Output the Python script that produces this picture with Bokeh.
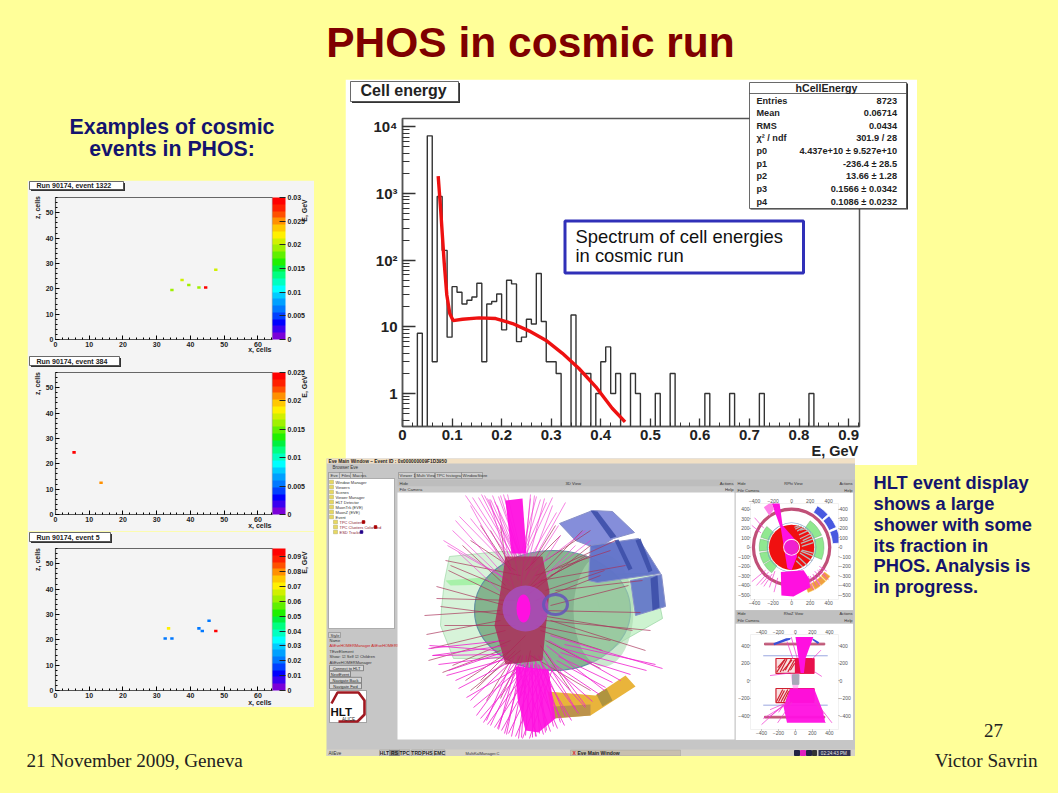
from bokeh.plotting import figure
from bokeh.embed import file_html
from bokeh.resources import INLINE
from bokeh.core.properties import value
from bokeh.models import (Column, ColorBar, LinearAxis, LinearColorMapper, FixedTicker, Range1d, ColumnDataSource)

FONT = "Liberation Sans"
SERIF = "Liberation Serif"
YELLOW = "#FFFF99"
NAVY = "#14146E"

# ---------- DATA ----------
TITLE = "PHOS in cosmic run"
HEADING = ["Examples of cosmic", "events in PHOS:"]
SIDE_TEXT = ["HLT event display", "shows a large", "shower with some", "its fraction in", "PHOS. Analysis is", "in progress."]
CALLOUT = ["Spectrum of cell energies", "in cosmic run"]
FOOT_LEFT = "21 November  2009, Geneva"
FOOT_RIGHT = "Victor Savrin"
PAGE_NO = "27"

BIN_LOW = [i / 100 for i in range(92)]
BIN_COUNT = [0, 0, 0, 8, 0, 7300, 3, 900, 140, 7,
             40, 33, 22, 25, 28, 45, 3, 22, 24, 31,
             9, 50, 44, 6, 7, 13, 11, 63, 12, 3,
             3, 2, 0, 0, 15, 0, 2, 2, 0, 1,
             3, 5, 1, 2, 0, 0, 2, 1, 0, 0,
             0, 1, 0, 0, 2, 0, 0, 0, 0, 0,
             0, 1, 0, 0, 0, 0, 1, 0, 0, 0,
             0, 0, 1, 0, 0, 0, 0, 0, 0, 0,
             0, 0, 1, 0, 0, 0, 0, 0, 0, 0, 0, 0]
FIT_E = [.072, .0773, .084, .0894, .0954, .102, .121, .1546, .188, .222, .255, .289, .3226, .356, .39, .423, .449]
FIT_N = [1820, 531, 94, 30, 15.8, 12.4, 13, 13.6, 13.3, 11.2, 8.7, 6.3, 4.0, 2.37, 1.26, 0.6, 0.376]
STAT_NAMES = ["Entries", "Mean", "RMS", "\u03c7\u00b2 / ndf", "p0", "p1", "p2", "p3", "p4"]
STAT_VALUES = ["8723", "0.06714", "0.0434", "301.9 / 28", "4.437e+10 \u00b1 9.527e+10", "-236.4 \u00b1 28.5",
               "13.66 \u00b1 1.28", "0.1566 \u00b1 0.0342", "0.1086 \u00b1 0.0232"]

PALETTE = ["#7A00D8", "#3A00F0", "#0000FF", "#0040FF", "#0078FF", "#00A0FF", "#00CCFF", "#00FFFF",
           "#00FFC0", "#00FF80", "#00F040", "#20F000", "#60F000", "#A0F000", "#D0F000", "#FFF000",
           "#FFC800", "#FF9000", "#FF5000", "#FF2000", "#FF0000"]

EV1_NAME, EV1_X, EV1_Z, EV1_E = "Run 90174, event 1322", [34, 37, 39, 42, 44, 47], [19, 23, 21, 20, 20, 27], [.0195, .0205, .0195, .019, .0295, .0205]
EV2_NAME, EV2_X, EV2_Z, EV2_E = "Run 90174, event 384", [5, 13], [24, 12], [.0245, .021]
EV3_NAME, EV3_X, EV3_Z, EV3_E = "Run 90174, event 5", [32, 34, 33, 42, 43, 45, 47], [20, 20, 24, 24, 23, 27, 23], [.021, .021, .07, .021, .021, .021, .095]
EV1_TICKS = [0, .005, .01, .015, .02, .025, .03]
EV2_TICKS = [0, .005, .01, .015, .02, .025]
EV3_TICKS = [0, .01, .02, .03, .04, .05, .06, .07, .08, .09]

# 3D view: hand-read track end points, page pixels
TOP_X0 = [512, 514, 516, 518, 519, 520, 521, 522, 523, 524, 516, 512, 518, 522, 510, 526, 514, 520, 508, 528, 504, 530, 512, 524,
          510, 512, 514, 516, 518, 520, 522, 524, 526, 528, 506, 504, 530, 532, 508, 526]
TOP_Y0 = [555, 552, 556, 550, 553, 556, 552, 555, 553, 557, 575, 570, 580, 570, 585, 575, 590, 590, 580, 585, 595, 590, 575, 580,
          560, 560, 560, 560, 560, 560, 560, 560, 560, 560, 570, 575, 565, 570, 580, 590]
TOP_X1 = [478, 484, 490, 494, 498, 503, 536, 540, 546, 552, 470, 459, 505, 556, 452, 558, 489, 530, 447, 560, 458, 575, 497, 552,
          465, 472, 481, 487, 492, 500, 507, 530, 534, 544, 470, 455, 565, 585, 443, 590]
TOP_Y1 = [497, 495, 499, 501, 496, 494, 496, 499, 502, 497, 518, 516, 498, 512, 530, 525, 499, 498, 545, 535, 552, 545, 505, 505,
          495, 497, 494, 498, 495, 495, 494, 494, 495, 498, 505, 520, 502, 530, 540, 540]
BOT_X0 = [512, 515, 518, 520, 522, 524, 526, 528, 530, 532, 534, 536, 538, 540, 510, 514, 518, 522, 526, 530, 534, 538, 542, 508, 506, 504, 544, 546, 548, 550,
          516, 520, 524, 528, 532, 536, 540, 544, 548, 552, 518, 522, 526, 530, 534, 538, 542, 546, 550, 554, 512, 508, 504, 500, 496, 556, 558, 560, 562, 564]
BOT_Y0 = [660, 662, 664, 662, 664, 662, 664, 662, 664, 662, 664, 662, 664, 660, 655, 655, 655, 655, 655, 655, 655, 655, 655, 650, 645, 640, 650, 645, 640, 635,
          668, 668, 668, 668, 668, 668, 668, 668, 668, 668, 664, 664, 664, 664, 664, 664, 664, 664, 664, 664, 660, 658, 656, 654, 650, 660, 656, 652, 648, 644]
BOT_X1 = [470, 476, 483, 490, 497, 504, 511, 518, 525, 532, 539, 546, 553, 560, 455, 486, 498, 506, 521, 535, 545, 565, 575, 448, 432, 428, 585, 604, 620, 662,
          466, 473, 480, 487, 494, 501, 508, 515, 522, 529, 536, 543, 550, 557, 564, 571, 578, 585, 592, 599, 458, 446, 438, 432, 429, 605, 612, 630, 646, 655]
BOT_Y1 = [700, 715, 722, 725, 728, 733, 736, 738, 735, 737, 733, 730, 726, 722, 680, 720, 729, 734, 737, 736, 732, 716, 708, 670, 655, 648, 705, 690, 680, 668,
          697, 707, 718, 724, 727, 730, 733, 736, 738, 738, 736, 734, 731, 728, 725, 720, 713, 707, 701, 694, 688, 675, 664, 655, 645, 687, 682, 674, 670, 664]
RED_X0 = [515, 510, 505, 500, 500, 505, 510, 515, 520, 525, 530, 535, 540, 545, 550, 540, 545, 520, 530, 510, 500, 505, 510, 515, 525, 535, 540, 545, 550, 555, 510, 500,
          520, 515, 510, 505, 525, 530, 535, 540, 545, 550, 530, 520, 510, 500, 540, 550]
RED_Y0 = [600, 590, 585, 610, 620, 630, 640, 650, 600, 590, 585, 600, 610, 620, 605, 630, 640, 650, 655, 570, 595, 605, 615, 625, 635, 625, 615, 590, 575, 590, 660, 650,
          575, 570, 565, 560, 570, 565, 575, 580, 560, 570, 650, 655, 650, 640, 645, 620]
RED_X1 = [436, 450, 462, 424, 426, 430, 452, 476, 590, 586, 582, 600, 640, 650, 628, 602, 600, 470, 590, 480, 448, 436, 440, 444, 480, 610, 632, 604, 590, 642, 486, 442,
          445, 470, 490, 500, 560, 555, 610, 625, 590, 615, 520, 500, 465, 428, 570, 645]
RED_Y1 = [598, 565, 545, 615, 634, 648, 665, 688, 545, 555, 530, 575, 612, 630, 585, 650, 668, 690, 690, 525, 570, 586, 606, 625, 680, 640, 630, 570, 555, 580, 700, 672,
          560, 540, 530, 525, 535, 525, 550, 565, 530, 540, 695, 698, 680, 660, 690, 650]

RPHI_TICKS_X = [-400, -200, 0, 200, 400]
RPHI_TICKS_Y = [-500, -400, -300, -200, -100, 0, 100, 200, 300, 400]
RHOZ_TICKS = [-400, -200, 0, 200, 400]
TREE_ITEMS = ["Window Manager", "Viewers", "Scenes", "Viewer Manager", "HLT Detector", "MuonTrk (EVE)", "MuonZ (EVE)", "Event", "TPC Clusters", "TPC Clusters Colorized", "ESD Tracks"]
BUTTONS = ["Connect to HLT", "NextEvent", "Navigate Back", "Navigate Fwd"]
TASK_ITEMS = ["HLT", "RS", "TPC", "TRD", "PHS", "EMC"]


# ---------- HELPERS ----------
def place(fig, left, top):
    return Column(children=[fig], styles={"position": "absolute", "left": f"{left}px", "top": f"{top}px"})


def px_fig(left, top, w, h, fill=None):
    f = figure(width=w, height=h, x_range=Range1d(left, left + w), y_range=Range1d(top + h, top),
               output_backend="svg", toolbar_location=None, min_border=0, x_axis_location=None, y_axis_location=None)
    f.grid.visible = False
    f.outline_line_color = None
    if fill is None:
        f.background_fill_alpha = 0
        f.border_fill_alpha = 0
    else:
        f.background_fill_color = fill
        f.border_fill_color = fill
    return f


def txt(f, x, y, s, size, color="black", bold=False, align="left", font=FONT, angle=0):
    f.text([x], [y], text=[s], text_font=value(font), text_font_size=f"{size}px", text_color=color,
           text_font_style="bold" if bold else "normal", text_align=align, text_baseline="middle", angle=angle)


def box(f, x0, y0, x1, y1, fill, line=None, lw=1, alpha=1.0):
    f.quad(left=[x0], right=[x1], top=[y0], bottom=[y1], fill_color=fill, fill_alpha=alpha, line_color=line, line_width=lw)


# ---------- SLIDE ----------
slide = px_fig(8, 8, 1042, 777, YELLOW)
txt(slide, 530, 42, TITLE, 42.5, "#7F0000", True, "center")
txt(slide, 171.5, 126, HEADING[0], 21.3, NAVY, True, "center")
txt(slide, 171.5, 148, HEADING[1], 21.3, NAVY, True, "center")
for t, yy in zip(SIDE_TEXT, [482, 503, 524, 545, 565, 586]):
    txt(slide, 873, yy, t, 18.3, NAVY, True)
txt(slide, 26, 760, FOOT_LEFT, 19.2, "#222222", font=SERIF)
txt(slide, 1037, 760, FOOT_RIGHT, 19.2, "#222222", align="right", font=SERIF)
txt(slide, 993, 730, PAGE_NO, 19, "#222222", align="center", font=SERIF)


# ---------- HISTOGRAM ----------
hist = figure(width=572, height=386, y_axis_type="log", x_range=Range1d(0, 0.922), y_range=Range1d(0.32, 13300),
              output_backend="svg", toolbar_location=None, min_border_left=57, min_border_right=58,
              min_border_top=39, min_border_bottom=39)
hist.grid.visible = False
hist.outline_line_color = "#555555"
hist.outline_line_width = 1.5
hist.step(BIN_LOW + [0.92], [c if c > 0 else 0.1 for c in BIN_COUNT] + [0.1], mode="after", line_color="#333333", line_width=1.4)
hist.line(FIT_E, FIT_N, line_color="#EE1111", line_width=3.4)
hist.xaxis.ticker = FixedTicker(ticks=[i / 10 for i in range(10)], minor_ticks=[i / 50 for i in range(47)])
dec = [0.1, 1, 10, 100, 1000]
hist.yaxis.ticker = FixedTicker(ticks=[1, 10, 100, 1000, 10000], minor_ticks=[d * k for d in dec for k in range(2, 10)] + [10000])
hist.xaxis.major_label_overrides = {0: "0", 0.1: "0.1", 0.2: "0.2", 0.3: "0.3", 0.4: "0.4", 0.5: "0.5", 0.6: "0.6", 0.7: "0.7", 0.8: "0.8", 0.9: "0.9"}
hist.yaxis.major_label_overrides = {1: "1", 10: "10", 100: "10\u00b2", 1000: "10\u00b3", 10000: "10\u2074"}
for ax, tick, mt in ((hist.xaxis, 8, 4), (hist.yaxis, 13, 7)):
    ax.major_tick_in = tick
    ax.major_tick_out = 0
    ax.minor_tick_in = mt
    ax.minor_tick_out = 0
    ax.axis_line_color = "#555555"
    ax.axis_line_width = 1.5
    ax.major_tick_line_color = "#333333"
    ax.major_tick_line_width = 1.3
    ax.minor_tick_line_color = "#333333"
    ax.major_label_text_font = FONT
    ax.major_label_text_font_style = "bold"
    ax.major_label_text_font_size = "15px"
    ax.major_label_text_color = "#222222"
hist.xaxis.major_label_standoff = 3
hist.yaxis.major_label_standoff = 5


# ---------- COSMIC EVENT PANELS ----------
def event_panel(xs, zs, es, ticks, high):
    p = figure(width=287, height=176, x_range=Range1d(0, 64.3), y_range=Range1d(0, 56),
               output_backend="svg", toolbar_location=None, min_border_left=28, min_border_right=42,
               min_border_top=17, min_border_bottom=17, background_fill_color="#F4F4F4", border_fill_color="#F4F4F4")
    p.grid.visible = False
    p.outline_line_color = "#666666"
    p.outline_line_width = 1.2
    mapper = LinearColorMapper(palette=PALETTE, low=0, high=high)
    src = ColumnDataSource(dict(x=[v + .5 for v in xs], y=[v + .5 for v in zs], e=es))
    p.rect("x", "y", width=1, height=1, source=src, fill_color={"field": "e", "transform": mapper}, line_color=None)
    p.xaxis.ticker = FixedTicker(ticks=[0, 10, 20, 30, 40, 50, 60], minor_ticks=list(range(0, 65, 2)))
    p.yaxis.ticker = FixedTicker(ticks=[0, 10, 20, 30, 40, 50], minor_ticks=list(range(0, 57, 2)))
    for ax in (p.xaxis, p.yaxis):
        ax.major_tick_in = 4
        ax.major_tick_out = 0
        ax.minor_tick_in = 2
        ax.minor_tick_out = 0
        ax.axis_line_color = "#555555"
        ax.major_label_text_font = FONT
        ax.major_label_text_font_style = "bold"
        ax.major_label_text_font_size = "7px"
        ax.major_label_text_color = "#222222"
        ax.major_label_standoff = 2
    cb = ColorBar(color_mapper=mapper, width=13, height=142, padding=0, margin=0, ticker=FixedTicker(ticks=ticks),
                  major_tick_line_color="#222222", major_tick_in=6, major_label_text_font=FONT, bar_line_color=None,
                  major_label_text_font_style="bold", major_label_text_font_size="7px", major_label_text_color="#222222",
                  label_standoff=2, background_fill_color="#F4F4F4", background_fill_alpha=1, border_line_color=None)
    p.add_layout(cb, "right")
    return p


ev1 = event_panel(EV1_X, EV1_Z, EV1_E, EV1_TICKS, .03)
ev2 = event_panel(EV2_X, EV2_Z, EV2_E, EV2_TICKS, .025)
ev3 = event_panel(EV3_X, EV3_Z, EV3_E, EV3_TICKS, .0956)


# ---------- EVENT DISPLAY WINDOW ----------
ed = px_fig(326, 458, 529, 298, "#C6C6C6")
box(ed, 326, 458, 855, 463, "#F2E0C4")
txt(ed, 328, 460.5, "Eve Main Window \u2013 Event ID : 0x000000009F1D3950", 4.8, "#222222", True)
txt(ed, 332, 467, "Browser   Eve", 4.5, "#333333")
for t, xx in zip(["Eve", "Files", "Macros"], [330, 341, 352]):
    box(ed, xx - 2, 472, xx + 10, 478, "#CFCFCF", "#777777", .5)
    txt(ed, xx, 475, t, 4.2, "#333333")
for t, xx, w in zip(["Viewer 1", "Multi View", "TPC histograms", "WindowStore"], [399, 416, 436, 462], [15, 18, 25, 20]):
    box(ed, xx - 1, 472, xx + w, 478, "#CFCFCF", "#777777", .5)
    txt(ed, xx, 475, t, 4.2, "#333333")
box(ed, 397, 479, 734, 486, "#BDBDBD")
box(ed, 397, 486, 734, 492, "#C8C8C8")
txt(ed, 399, 482.5, "Hide", 4.2, "#333333")
txt(ed, 565, 482.5, "3D View", 4.2, "#333333")
txt(ed, 733, 482.5, "Actions", 4.2, "#333333", align="right")
txt(ed, 399, 488.5, "File   Camera", 4.2, "#333333")
txt(ed, 733, 488.5, "Help", 4.2, "#333333", align="right")

# tree
box(ed, 328, 478, 394, 628, "white", "#888888", .6)
for i, t in enumerate(TREE_ITEMS):
    yy = 481.5 + i * 5
    xx = 334 if i < 8 else 338
    box(ed, xx - 5, yy - 1.8, xx - 1, yy + 1.8, "#E8D860", "#808040", .3)
    txt(ed, xx + 1, yy, t, 4, "#8A2030" if i > 7 else "#333333")
ed.scatter([363, 375, 361], [521.5, 526.5, 531.5], size=2.5, color=["#AA0000", "#AA0000", "#220088"], marker="square")

# style panel
box(ed, 328, 632, 340, 637, "#D2D2D2", "#777777", .5)
txt(ed, 330, 634.5, "Style", 4, "#333333")
txt(ed, 329, 640, "Name", 4, "#333333")
txt(ed, 329, 645, "AliEveHOMERManager AliEveHOMERManager", 3.9, "#CC2222")
txt(ed, 329, 651, "TEveElement", 4, "#333333")
txt(ed, 329, 656, "Show:  \u2611 Self  \u2611 Children", 4, "#333333")
txt(ed, 329, 662, "AliEveHOMERManager", 4, "#333333")
for t, yy, w in zip(BUTTONS, [667.5, 673.5, 679.5, 685.5], [34, 21, 32, 32]):
    box(ed, 329, yy - 2.7, 329 + w, yy + 2.7, "#D6D6D6", "#555555", .6)
    txt(ed, 329 + w / 2, yy, t, 4, "#222222", align="center")
box(ed, 329, 690, 366, 722, "white", "#777777", .6)
ed.line([331, 337, 358, 364, 364, 357, 338], [703, 692, 692, 700, 714, 721, 721], line_color="#A01820", line_width=2.6)
txt(ed, 330, 711, "HLT", 11.5, "#111111", True)
txt(ed, 348, 719, "ALICE", 4.5, "#222222", align="center")

# 3D view
box(ed, 397, 492, 734, 739, "white")
ed.patch([449, 500, 520, 520, 495, 453, 440, 441, 444], [556, 551, 552, 658, 658, 658, 625, 608, 580], fill_color="#CDF0CF", fill_alpha=.8, line_color="#A8DCB0", line_width=.8)
ed.patch([445, 495, 495, 450], [580, 576, 584, 585], fill_color="#9FF0A0", fill_alpha=.85, line_color=None)
ed.patch([590, 630, 653, 662, 623, 610], [575, 573, 573, 618, 640, 650], fill_color="#BCEFC0", fill_alpha=.75, line_color="#A0D8A8", line_width=.8)
ed.ellipse([552], [610], width=156, height=120, fill_color="#7FB08A", fill_alpha=.95, line_color="#6090A0", line_width=1.2)
ed.ellipse([603], [610], width=60, height=112, fill_color="#A8D8AE", fill_alpha=.6, line_color=None)
# PHOS modules
ed.patch([559, 592, 612, 634, 613, 596, 575], [523, 510, 511, 532, 538, 548, 540], fill_color="#7E88D8", fill_alpha=.95, line_color="#8890C8")
ed.patch([590, 638, 660, 597, 588], [545, 538, 573, 582, 580], fill_color="#5E70C8", fill_alpha=.95, line_color="#8890C8")
ed.patch([630, 661, 665, 635], [580, 574, 606, 615], fill_color="#6478C8", fill_alpha=.95, line_color="#8890C8")
ed.patch([590, 597, 616, 610], [510, 511, 536, 538], fill_color="#3D4FA8", fill_alpha=.9, line_color=None)
ed.patch([614, 618, 632, 628], [540, 539, 568, 570], fill_color="#3D4FA8", fill_alpha=.9, line_color=None)
ed.patch([635, 640, 652, 648], [540, 538, 570, 572], fill_color="#3D4FA8", fill_alpha=.9, line_color=None)
ed.patch([650, 657, 659, 652], [578, 575, 607, 610], fill_color="#3D4FA8", fill_alpha=.9, line_color=None)
# EMCal module
ed.patch([547, 595, 625, 635, 590, 552], [691, 695, 675, 686, 715, 718], fill_color="#E8B030", fill_alpha=.95, line_color=None)
ed.patch([596, 606, 612, 602], [694, 688, 700, 706], fill_color="#A89040", fill_alpha=.9, line_color=None)
ed.patch([552, 590, 590, 552], [706, 704, 715, 718], fill_color="#B08A50", fill_alpha=.8, line_color=None)
# tracks
ed.segment(RED_X0, RED_Y0, RED_X1, RED_Y1, line_color="#A83058", line_width=.8, line_alpha=.85)
ed.segment(TOP_X0, TOP_Y0, TOP_X1, TOP_Y1, line_color="#F030D0", line_width=.7, line_alpha=.85)
ed.segment(BOT_X0, BOT_Y0, BOT_X1, BOT_Y1, line_color="#F020D0", line_width=.9, line_alpha=.9)
ed.patch([505, 542, 549, 542, 505, 494, 500], [556, 556, 591, 660, 664, 625, 590], fill_color="#AE2456", fill_alpha=.8, line_color=None)
ed.ellipse([525], [608], width=46, height=46, fill_color="#A850C4", fill_alpha=.8, line_color=None)
ed.ellipse([555], [604], width=24, height=20, fill_color=None, line_color="#6658B8", line_width=3, line_alpha=.9)
ed.ellipse([523], [608], width=14, height=28, fill_color="#FF10E0", line_color=None)
ed.patch([505, 522, 526, 511], [500, 498, 553, 553], fill_color="#FF10E0", fill_alpha=.95, line_color=None)
ed.patch([515, 548, 555, 538, 525, 517], [666, 669, 718, 732, 730, 698], fill_color="#FF10E0", fill_alpha=.92, line_color=None)

# view side bars
box(ed, 734, 479, 855, 492, "#C0C0C0")
box(ed, 735, 610, 853, 623, "#C0C0C0")
txt(ed, 737, 483, "Hide", 4, "#333333")
txt(ed, 793, 483, "RPhi View", 4, "#333333", align="center")
txt(ed, 852, 483, "Actions", 4, "#333333", align="right")
txt(ed, 737, 489.5, "File   Camera", 4, "#333333")
txt(ed, 852, 489.5, "Help", 4, "#333333", align="right")
txt(ed, 737, 613, "Hide", 4, "#333333")
txt(ed, 793, 613, "RhoZ View", 4, "#333333", align="center")
txt(ed, 852, 613, "Actions", 4, "#333333", align="right")
txt(ed, 737, 619.5, "File   Camera", 4, "#333333")
txt(ed, 852, 619.5, "Help", 4, "#333333", align="right")

# task bar
box(ed, 326, 749, 855, 756, "#D4D0C8")
for t, xx in zip(TASK_ITEMS, [384, 394, 404, 416, 427, 439]):
    box(ed, xx - 5, 749.5, xx + 5.5, 755.5, "#CFCFCF" if t != "RS" else "#888888", "#777777", .4)
    txt(ed, xx, 752.5, t, 5, "#222222", True, "center")
txt(ed, 328, 752.5, "AliEve", 4.5, "#333333")
txt(ed, 465, 752.5, "MultiKalManager.C", 4, "#333333")
box(ed, 570, 749.5, 680, 755.5, "#C8BFAF", "#999999", .4)
txt(ed, 577, 752.5, "Eve Main Window", 5, "#222222", True)
txt(ed, 572, 752.5, "X", 5, "#DD2222", True)
ed.quad(left=[794, 800, 806, 812], right=[799, 805, 811, 816], top=[750, 750, 750, 750], bottom=[755, 755, 755, 755],
        color=["#222244", "#E020C0", "#222244", "#333333"])
box(ed, 818, 749.5, 850, 755.5, "#303050")
txt(ed, 834, 752.5, "02:24:43  PM", 4.6, "#E8E8E8", align="center")


def view_fig(w, h, xr, yr, xt, yt, ml, mr, mt, mb):
    v = figure(width=w, height=h, x_range=Range1d(*xr), y_range=Range1d(*yr), output_backend="svg", toolbar_location=None,
               min_border_left=ml, min_border_right=mr, min_border_top=mt, min_border_bottom=mb)
    v.grid.visible = False
    v.outline_line_color = None
    v.add_layout(LinearAxis(), "above")
    v.add_layout(LinearAxis(), "right")
    for ax in list(v.xaxis) + list(v.yaxis):
        ax.major_label_text_font = FONT
        ax.major_label_text_font_size = "5px"
        ax.major_label_text_color = "#555555"
        ax.major_tick_in = 0
        ax.major_tick_out = 1
        ax.minor_tick_line_color = None
        ax.axis_line_color = None
        ax.major_tick_line_color = "#999999"
        ax.major_label_standoff = 0
    for ax in v.xaxis:
        ax.ticker = FixedTicker(ticks=xt)
    for ax in v.yaxis:
        ax.ticker = FixedTicker(ticks=yt)
    return v


# RPhi projection
rp = view_fig(118, 118, (-444, 507), (-547, 459), RPHI_TICKS_X, RPHI_TICKS_Y, 14, 14, 11, 11)
rp.annular_wedge([0] * 6, [0] * 6, 255, 350,
                 [140, 165, 190, 212, 22, -22], [162, 187, 210, 232, 55, 18], start_angle_units="deg", end_angle_units="deg",
                 fill_color="#90E890", line_color="#70A070", line_width=.4)
rp.annular_wedge([0], [0], 262, 268, 0, 360, start_angle_units="deg", end_angle_units="deg", fill_color="#7098C8", line_color=None)
rp.annular_wedge([0], [0], 395, 430, 0, 360, start_angle_units="deg", end_angle_units="deg", fill_color="#C05078", line_color=None)
rp.annular_wedge([0] * 3, [0] * 3, 445, 530, [5, 24, 42], [22, 40, 58], start_angle_units="deg", end_angle_units="deg",
                 fill_color="#4858E0", line_color="white", line_width=.8)
rp.annular_wedge([0] * 4, [0] * 4, 445, 520, [-70, -61, -52, -44], [-62, -53, -45, -37], start_angle_units="deg", end_angle_units="deg",
                 fill_color="#F0A040", line_color="#F8D050", line_width=.5)
rp.circle([0], [0], radius=245, fill_color="#F01010", line_color=None)
rp.segment([40, 60, 80, 90, 100, 110, 100, 90, 70, 50, 30, 90, 110, 120], [190, 170, 130, 90, 40, 10, -40, -60, -100, -140, 210, 180, -30, 70],
           [110, 130, 190, 220, 240, 235, 230, 220, 170, 120, 80, 160, 235, 225], [225, 210, 180, 150, 90, 50, -90, -140, -190, -205, 228, 195, -60, 120],
           line_color="#B8B8B8", line_width=1.3)
rp.segment([-180, -210, -240, 150, 200, 250, 300, -300, -330, 250, 300, -150, -250, -280, 180, 230, 280],
           [-250, -280, -290, -280, -300, -250, -230, 200, 150, -300, -200, -320, -260, -240, -300, -280, -240],
           [-240, -300, -330, 210, 270, 320, 370, -400, -430, 310, 380, -190, -380, -430, 240, 300, 400],
           [-420, -410, -390, -430, -410, -330, -300, 310, 230, -390, -250, -470, -400, -360, -450, -400, -340],
           line_color="#F040D0", line_width=.7)
rp.patch([-220, -134, -98, 30, 60, 0, -46, -116], [475, 493, 231, 90, -90, -240, -220, 196], fill_color="#FF10E0", line_color=None)
rp.patch([-116, 130, 190, 200, 20, -110], [-259, -241, -330, -420, -515, -505], fill_color="#FF10E0", line_color=None)
rp.patch([-300, -220, -190, -240], [420, 475, 400, 330], fill_color="#FF80E8", line_color=None)
rp.annular_wedge([0], [0], 80, 92, 0, 360, start_angle_units="deg", end_angle_units="deg", fill_color="#F8D8F0", line_color=None)
rp.circle([0], [0], radius=77, fill_color="#F020D0", line_color=None)

# RhoZ projection
rz = view_fig(118, 117, (-530, 507), (-556, 529), RHOZ_TICKS, RHOZ_TICKS, 14, 14, 11, 11)
rz.quad(left=[-365, -365], right=[345, 345], top=[430, -405], bottom=[410, -425], color="#C05878")
rz.segment([-380, -380], [286, -278], [380, 380], [286, -278], line_color="#8090D8", line_width=.8)
rz.patch([-260, -110, -55, -65, -110, -250], [430, 485, 490, 470, 455, 405], fill_color="#3850D8", line_color=None)
rz.patch([200, 280, 265, 200], [485, 440, 420, 465], fill_color="#3850D8", line_color=None)
rz.quad(left=[-230, -230], right=[0, -60], top=[255, -88], bottom=[85, -248], fill_color="#F8E0E0", line_color="#D02030", line_width=1.2)
rz.segment([-220, -210, -180, -150, -120, -90, -60, -225, -200, -170, -140, -110],
           [100, 150, 100, 110, 120, 100, 120, -240, -240, -240, -240, -240],
           [-120, -130, -100, -40, -50, -10, -10, -150, -130, -90, -80, -60],
           [250, 240, 250, 240, 250, 240, 200, -100, -110, -100, -120, -100], line_color="#D02030", line_width=1.2)
rz.quad(left=[0, -60], right=[220, 220], top=[255, -88], bottom=[85, -248], color="#E8104C")
rz.patch([0, 210, 120, 100, 60], [500, 500, 260, 90, 90], fill_color="#FF10E0", line_color=None)
rz.patch([-60, 220, 320, 350, 360, -100, -140], [-88, -88, -340, -470, -480, -480, -300], fill_color="#FF10E0", fill_alpha=.95, line_color=None)
rz.segment([-30, 20, -80, -60, -40, -80, -120, -140, 220, 240, -60, 230, 200],
           [250, 260, -240, -240, -240, -240, -250, -270, -230, -240, 90, 100, 250],
           [-100, -50, -300, -380, -210, -320, -200, -400, 340, 430, -300, 310, 300],
           [450, 500, -330, -430, -480, -420, -360, -500, -380, -480, 60, 50, 350], line_color="#F030D0", line_width=.7)
rz.patch([-60, 50, 30, -30], [85, 85, -88, -88], fill_color="#FF90EE", fill_alpha=.6, line_color=None)
rz.quad(left=[-35], right=[40], top=[70], bottom=[-40], color="#A8A8B8")


# ---------- ANNOTATION LAYER ----------
an = px_fig(8, 8, 1042, 777)
# ROOT title boxes
for x0, y0, x1, y1, t, size, ty in [(350, 81, 458, 101, "Cell energy", 16, 90),
                                    (29, 181, 123, 189, EV1_NAME, 7, 185), (29, 356, 119, 365, EV2_NAME, 7, 360.5), (29, 532, 110, 541, EV3_NAME, 7, 536.5)]:
    box(an, x0 + 1.5, y0 + 1.5, x1 + 1.5, y1 + 1.5, "#333333")
    box(an, x0, y0, x1, y1, "white", "#444444", .8)
    txt(an, x0 + 10 if size > 10 else x0 + 7, ty, t, size, "#222222", True)
txt(an, 811, 450, "E, GeV", 14.5, "#222222", True)
# stats box
box(an, 750, 83, 907.5, 209, "#333333")
box(an, 749, 82, 906, 208, "white", "#444444", .8)
an.segment([749], [93], [906], [93], line_color="#444444", line_width=.8)
txt(an, 826, 87.5, "hCellEnergy", 10.6, "#222222", True, "center")
for n, v, yy in zip(STAT_NAMES, STAT_VALUES, [100, 112, 125, 137, 150, 163, 175, 188, 201]):
    txt(an, 756, yy, n, 9.1, "#222222", True)
    txt(an, 896.5, yy, v, 9.2, "#222222", True, "right")
# callout
box(an, 564.5, 220.5, 803, 272.5, "white", "#3030B8", 3)
txt(an, 575, 236, CALLOUT[0], 18.4, "#111111")
txt(an, 575, 255, CALLOUT[1], 18.4, "#111111")
# event panel labels
for yb, yt in [(339, 197), (515, 373), (692, 549)]:
    txt(an, 271, yb + 10, "x, cells", 7, "#222222", True, "right")
    txt(an, 37, yt + 10, "z, cells", 7, "#222222", True, "center", angle=1.5708)
    txt(an, 304, yt + 13, "E, GeV", 7, "#222222", True, "center", angle=1.5708)

root = Column(children=[place(slide, 8, 8), place(hist, 345, 79), place(ev1, 27, 180), place(ev2, 27, 355), place(ev3, 27, 531),
                        place(ed, 326, 458), place(rp, 735, 492), place(rz, 735, 623), place(an, 8, 8)],
              width=1042, height=777, styles={"position": "relative"})
html = file_html(root, INLINE).replace("<body>", '<body style="background:#FFFF99">')
open("out.html", "w").write(html)
